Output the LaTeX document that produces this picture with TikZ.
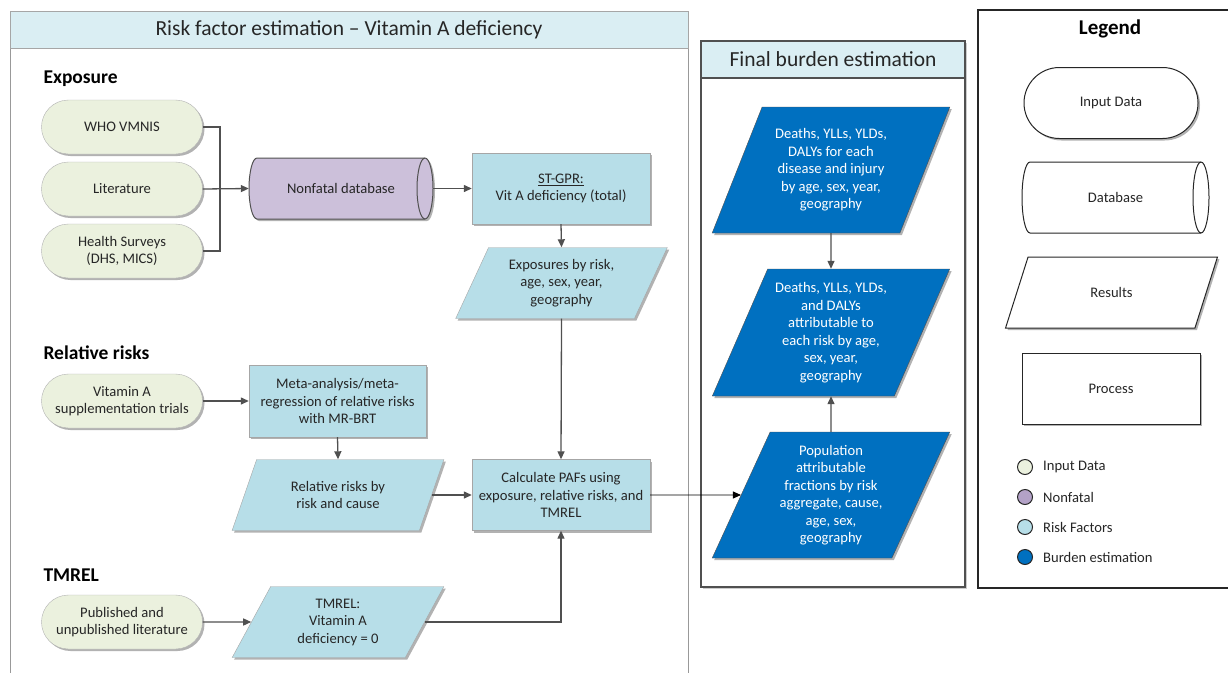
\documentclass[tikz,border=0pt]{standalone}
\usepackage{fontspec}
\setmainfont{Carlito}
\usepackage{tikz}
\usetikzlibrary{arrows.meta,positioning,shapes.geometric,shapes.misc,shadows}
\definecolor{ingreen}{HTML}{EBF1DE}
\definecolor{nfpurple}{HTML}{CCC0DA}
\definecolor{dotpurple}{HTML}{B3A2C7}
\definecolor{riskblue}{HTML}{B7DEE8}
\definecolor{headblue}{HTML}{DAEEF3}
\definecolor{burdenblue}{HTML}{0070C0}
\definecolor{edgegray}{HTML}{505050}
\definecolor{textgray}{HTML}{262626}
\newcommand{\bodyfont}{\fontsize{14.6}{17.5}\selectfont}
\newcommand{\titlefont}{\fontsize{21.5}{25}\selectfont}
% cylinder body: centre x, centre y, half width, half height, body style, edge colour
\newcommand{\cyl}[6]{%
  \path[#5] (#1-#3+8,#2-#4) -- (#1+#3-8,#2-#4)
    arc[start angle=90, end angle=-90, x radius=8pt, y radius=#4pt]
    -- (#1-#3+8,#2+#4)
    arc[start angle=270, end angle=90, x radius=8pt, y radius=#4pt] -- cycle;
  \draw[#6, line width=1pt] (#1+#3-8,#2-#4)
    arc[start angle=90, end angle=270, x radius=8pt, y radius=#4pt];}

\begin{document}
\begin{tikzpicture}[x=1pt, y=-1pt,
  every node/.style={font=\bodyfont, text=textgray},
  dshadow/.style={drop shadow={shadow xshift=2pt, shadow yshift=-2pt, opacity=0.3, fill=black}},
  indata/.style={rounded rectangle, draw=gray!60, fill=ingreen, align=center,
    minimum width=165pt, minimum height=54pt, inner sep=2pt, dshadow},
  dbbox/.style={rectangle, align=center, minimum width=184pt, minimum height=61pt, inner sep=2pt},
  dbbody/.style={draw=edgegray, fill=nfpurple, line width=1pt, dshadow},
  proc/.style={rectangle, draw=gray!70, fill=riskblue, align=center,
    minimum width=178pt, minimum height=71pt, inner sep=2pt, dshadow},
  result/.style={trapezium, trapezium left angle=64, trapezium right angle=116,
    trapezium stretches=true, draw=gray!70, fill=riskblue, align=center,
    minimum width=212pt, minimum height=71pt, inner sep=1pt, dshadow},
  burden/.style={result, draw=edgegray, fill=burdenblue, text=white,
    minimum width=238pt, minimum height=126pt},
  legshape/.style={fill=white, draw=textgray, line width=1pt, drop shadow={opacity=0}},
  headbox/.style={rectangle, draw=gray!70, fill=headblue, font=\titlefont, minimum height=37pt},
  seclabel/.style={anchor=west, font=\fontsize{19.5}{23}\selectfont\bfseries, text=black},
  dot/.style={circle, draw=textgray, line width=1pt, minimum size=15pt, inner sep=0pt},
  arr/.style={draw=edgegray, line width=1.3pt, -{Triangle[length=8pt,width=7pt]}},
  conn/.style={draw=edgegray, line width=1.3pt},
  thinarr/.style={draw=black, line width=0.9pt, -{Triangle[length=8pt,width=7pt]}}]
\useasboundingbox (0,0) rectangle (1228,672);

% panels
\draw[gray!80, line width=0.8pt, fill=white] (10,11) rectangle (688,700);
\node[headbox, minimum width=678pt] (rfhead) at (349,29.5) {Risk factor estimation -- Vitamin A deficiency};
\draw[edgegray, line width=1.3pt, fill=white, drop shadow={shadow xshift=2pt, shadow yshift=-2pt, opacity=0.2, fill=black}] (701,41) rectangle (965,587);
\node[headbox, draw=edgegray, line width=1.3pt, minimum width=264pt] (fbhead) at (833,59.5) {Final burden estimation};
\draw[textgray, line width=1.3pt, fill=white] (978,10) rectangle (1240,588);

% exposure
\node[seclabel] (explbl) at (40,79) {Exposure};
\node[indata] (who) at (122,127) {WHO VMNIS};
\node[indata] (lit) at (122,189) {Literature};
\node[indata] (hs) at (122,251) {Health Surveys\\(DHS, MICS)};
\cyl{341}{188.5}{92}{30.5}{dbbody}{edgegray}
\node[dbbox] (nfdb) at (341,188.5) {Nonfatal database};
\node[proc] (stgpr) at (561,188.5) {\underline{ST-GPR:}\\Vit A deficiency (total)};
\node[result] (expo) at (561.5,283) {Exposures by risk,\\age, sex, year,\\geography};
\coordinate (brk) at (220,189);

% relative risks
\node[seclabel] (rrlbl) at (40,353) {Relative risks};
\node[indata] (vat) at (122,401) {Vitamin A\\supplementation trials};
\node[proc, minimum width=177pt, minimum height=72pt] (meta) at (337.5,401) {Meta-analysis/meta-\\regression of relative risks\\with MR-BRT};
\node[result] (rrpar) at (338,495) {Relative risks by\\risk and cause};
\node[proc] (paf) at (561,495) {Calculate PAFs using\\exposure, relative risks, and\\TMREL};

% tmrel
\node[seclabel] (tmlbl) at (40,575) {TMREL};
\node[indata] (pub) at (122,622) {Published and\\unpublished literature};
\node[result] (tmpar) at (338,622) {TMREL:\\Vitamin A\\deficiency = 0};

% final burden
\node[burden] (dyld) at (831,170) {Deaths, YLLs, YLDs,\\DALYs for each\\disease and injury\\by age, sex, year,\\geography};
\node[burden, minimum height=127pt] (attr) at (831,332.5) {Deaths, YLLs, YLDs,\\and DALYs\\attributable to\\each risk by age,\\sex, year,\\geography};
\node[burden] (popaf) at (831,495) {Population\\attributable\\fractions by risk\\aggregate, cause,\\age, sex,\\geography};

% legend
\node[font=\fontsize{21}{25}\selectfont\bfseries, text=black] (lgtitle) at (1110,29) {Legend};
\node[indata, legshape, minimum width=178pt, minimum height=71pt] (lgin) at (1111,103) {Input Data};
\cyl{1115.5}{197.5}{93.5}{35.5}{legshape}{textgray}
\node[dbbox, minimum width=187pt, minimum height=71pt] (lgdb) at (1115.5,197.5) {Database};
\node[result, legshape, minimum width=213pt] (lgres) at (1111.5,292.5) {Results};
\node[proc, legshape] (lgproc) at (1111,388.5) {Process};
\node[dot, fill=ingreen] (dotin) at (1025,467) {};
\node[dot, fill=dotpurple] (dotnf) at (1025,497) {};
\node[dot, fill=riskblue] (dotrf) at (1025,527) {};
\node[dot, fill=burdenblue] (dotbe) at (1025,557) {};
\node[right=10pt of dotin, inner sep=0pt] (txin) {Input Data};
\node[right=10pt of dotnf, inner sep=0pt] (txnf) {Nonfatal};
\node[right=10pt of dotrf, inner sep=0pt] (txrf) {Risk Factors};
\node[right=10pt of dotbe, inner sep=0pt] (txbe) {Burden estimation};

% connectors
\draw[conn] (who.east) -| (brk) |- (hs.east);
\draw[arr] (lit.east) -- (nfdb.west);
\draw[arr] (nfdb.east) -- (stgpr.west);
\draw[arr] (stgpr.south) -- (expo.north);
\draw[arr] (expo.south) -- (paf.north);
\draw[arr] (vat.east) -- (meta.west);
\draw[arr] (meta.south) -- (rrpar.north);
\draw[arr] (rrpar.east) -- (paf.west);
\draw[arr] (pub.east) -- (tmpar.west);
\draw[arr] (tmpar.east) -| (paf.south);
\draw[thinarr] (paf.east) -- (popaf.west);
\draw[arr] (dyld.south) -- (attr.north);
\draw[arr] (popaf.north) -- (attr.south);
\end{tikzpicture}
\end{document}
